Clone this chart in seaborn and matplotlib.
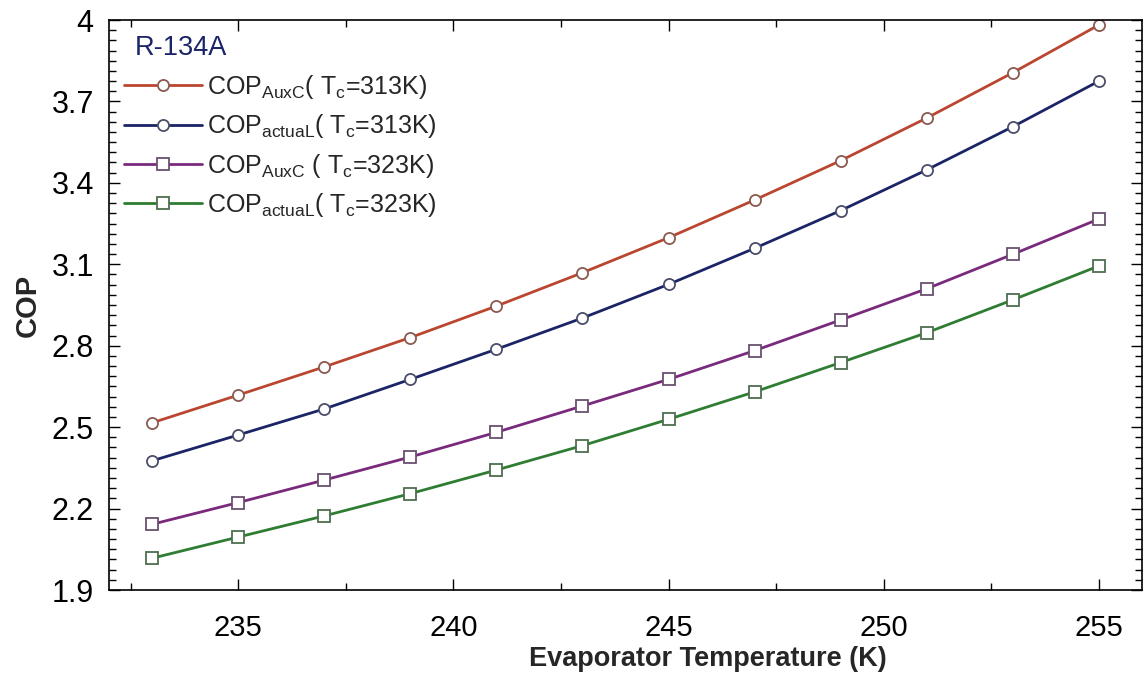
import numpy as np
import pandas as pd
import matplotlib
matplotlib.use("Agg")
import matplotlib.pyplot as plt
from matplotlib.ticker import FixedLocator, MultipleLocator
import seaborn as sns

# Evaporator temperature (K)
t_evap = [233, 235, 237, 239, 241, 243, 245, 247, 249, 251, 253, 255]

# COP values for R-134A
cop_auxc_313 = [2.516, 2.618, 2.722, 2.830, 2.946, 3.069, 3.198, 3.337, 3.482, 3.639, 3.806, 3.982]
cop_actual_313 = [2.376, 2.471, 2.567, 2.676, 2.787, 2.902, 3.026, 3.159, 3.298, 3.448, 3.607, 3.775]
cop_auxc_323 = [2.142, 2.222, 2.305, 2.390, 2.481, 2.578, 2.676, 2.782, 2.895, 3.010, 3.137, 3.267]
cop_actual_323 = [2.017, 2.095, 2.173, 2.255, 2.342, 2.432, 2.529, 2.630, 2.738, 2.848, 2.969, 3.094]

# Axis ticks
y_ticks = [1.9, 2.2, 2.5, 2.8, 3.1, 3.4, 3.7, 4.0]
y_tick_labels = ["1.9", "2.2", "2.5", "2.8", "3.1", "3.4", "3.7", "4"]
x_ticks = [235, 240, 245, 250, 255]

labels = [
    r"COP$_{\mathregular{AuxC}}$( T$_{\mathregular{c}}$=313K)",
    r"COP$_{\mathregular{actuaL}}$( T$_{\mathregular{c}}$=313K)",
    r"COP$_{\mathregular{AuxC}}$ ( T$_{\mathregular{c}}$=323K)",
    r"COP$_{\mathregular{actuaL}}$( T$_{\mathregular{c}}$=323K)",
]
series = [cop_auxc_313, cop_actual_313, cop_auxc_323, cop_actual_323]

sns.set_theme(style="ticks")
plt.rcParams["font.family"] = ["Liberation Sans", "DejaVu Sans"]
plt.rcParams["mathtext.fontset"] = "custom"
plt.rcParams["mathtext.rm"] = "Liberation Sans"
plt.rcParams["mathtext.it"] = "Liberation Sans"

colors = ["#bb4630", "#1b2466", "#7a2a7c", "#2e7d32"]
edge_colors = ["#8a5a50", "#4a4e6a", "#6a5070", "#4e6e50"]
markers = ["o", "o", "s", "s"]
msizes = [8, 8, 9, 9]

fig = plt.figure(figsize=(11.46, 6.73), dpi=100)
ax = fig.add_axes([109 / 1146, 1 - 590 / 673, (1142 - 109) / 1146, (590 - 20) / 673])

for ys, lab, c, ec, m, ms in zip(series, labels, colors, edge_colors, markers, msizes):
    df = pd.DataFrame({"T": t_evap, "COP": ys})
    sns.lineplot(
        data=df, x="T", y="COP", ax=ax, color=c, linewidth=2.0,
        marker=m, markersize=ms, markerfacecolor="white",
        markeredgecolor=ec, markeredgewidth=1.3, label=lab,
    )

ax.set_xlim(232, 256)
ax.set_ylim(1.9, 4.0)
ax.xaxis.set_major_locator(FixedLocator(x_ticks))
ax.xaxis.set_minor_locator(MultipleLocator(2.5))
ax.yaxis.set_major_locator(FixedLocator(y_ticks))
ax.yaxis.set_minor_locator(FixedLocator(np.arange(1.9, 4.0001, 0.0375)))
ax.set_yticklabels(y_tick_labels)

ax.tick_params(which="both", direction="in", top=True, right=True,
               labelsize=22, color="black", labelcolor="black")
ax.tick_params(which="major", length=8, width=1.0)
ax.tick_params(which="minor", length=5, width=1.0)
ax.tick_params(axis="x", which="major", pad=17, labelsize=21)
ax.tick_params(axis="y", which="major", pad=11)
for s in ax.spines.values():
    s.set_color("black")
    s.set_linewidth(1.2)

ax.set_xlabel("Evaporator Temperature (K)", fontsize=19.5, fontweight="bold", va="bottom")
ax.xaxis.set_label_coords(0.58, (590 - 672) / 570)
ax.set_ylabel("COP", fontsize=21, fontweight="bold", va="center")
ax.yaxis.set_label_coords((28 - 109) / 1033, 0.5)

# Refrigerant name above the legend entries
ax.text((135 - 109) / 1033, (590 - 48) / 570, "R-134A", transform=ax.transAxes,
        fontsize=19.5, color="#1b2466", ha="left", va="center")

leg = ax.legend(loc="upper left", frameon=False, fontsize=18,
                handlelength=3.1, handletextpad=0.22, labelspacing=0.45,
                borderaxespad=0.0, borderpad=0.0,
                bbox_to_anchor=((124 - 109) / 1033, (590 - 73) / 570))

fig.savefig("out.png", dpi=100)
